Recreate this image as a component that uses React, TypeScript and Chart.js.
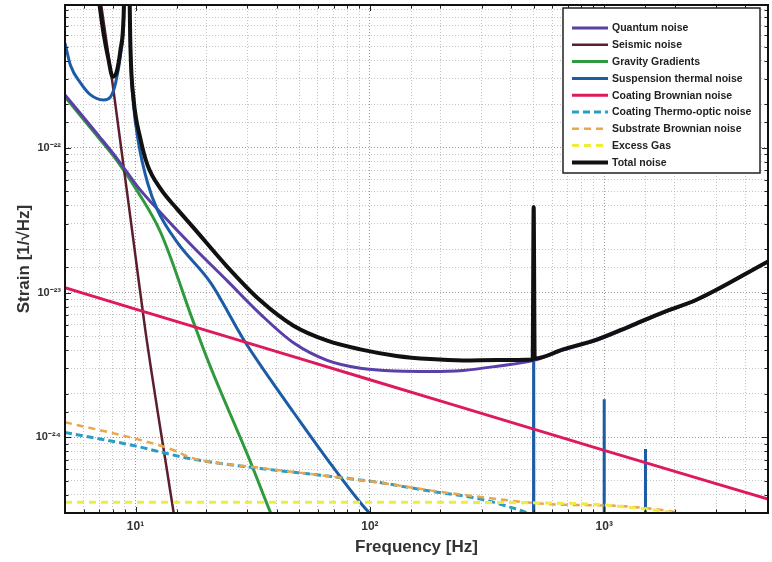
import React, { useEffect, useRef } from 'react';
import { Chart, registerables } from 'chart.js';
Chart.register(...registerables);

// ---------- data (frequency in Hz, strain in 1/sqrt(Hz)) ----------
const seriesLabels = [
  'Quantum noise',
  'Seismic noise',
  'Gravity Gradients',
  'Suspension thermal noise',
  'Coating Brownian noise',
  'Coating Thermo-optic noise',
  'Substrate Brownian noise',
  'Excess Gas',
  'Total noise',
];

const quantumF = [5, 7, 8.4, 10.2, 12.8, 17.7, 24.7, 34.1, 47.2, 65.8, 91, 130, 181, 250, 350, 500, 667, 935, 1285, 1783, 2488, 5000];
const quantumV = [2.32e-22, 1.2e-22, 8.3e-23, 5.4e-23, 3.56e-23, 2.05e-23, 1.2e-23, 7.1e-24, 4.5e-24, 3.4e-24, 3.0e-24, 2.87e-24, 2.85e-24, 2.9e-24, 3.1e-24, 3.4e-24, 4.0e-24, 4.7e-24, 5.8e-24, 7.25e-24, 8.9e-24, 1.63e-23];

const seismicF = [7.0, 8.0, 10, 11, 14, 15];
const seismicV = [1.2e-21, 2.7e-22, 1.77e-23, 5.55e-24, 4.45e-25, 2.2e-25];

const gravityF = [5, 7, 8.4, 10.2, 12.8, 17.7, 20.5, 31, 37.6, 42];
const gravityV = [2.25e-22, 1.16e-22, 8.0e-23, 5.0e-23, 2.6e-23, 6.2e-24, 3.3e-24, 6.7e-25, 3.04e-25, 2.0e-25];

const suspensionF = [5, 5.28, 5.83, 6.43, 7.3, 7.82, 8.22, 8.63, 8.89, 9.2, 9.52, 9.8, 10.3, 11.25, 12.4, 15.1, 20.9, 28.9, 37.6, 47.2, 65.8, 93.8, 120, 499, 500, 501, 999, 1000, 1001, 1499, 1500, 1501, 5000];
const suspensionV = [5.3e-22, 3.7e-22, 2.8e-22, 2.32e-22, 2.14e-22, 2.25e-22, 2.8e-22, 4.4e-22, 7.5e-22, 1e-20, 4.5e-22, 2.0e-22, 1.08e-22, 5.74e-23, 3.73e-23, 2.21e-23, 1.17e-23, 4.74e-24, 2.51e-24, 1.49e-24, 7.05e-25, 3.34e-25, 2.2e-25, 1e-26, 3.9e-23, 1e-26, 1e-26, 1.83e-24, 1e-26, 1e-26, 8.3e-25, 1e-26, 1e-26];

const coatingBrownianF = [5, 10, 100, 1000, 5000];
const coatingBrownianV = [1.08e-23, 7.69e-24, 2.5e-24, 8.13e-25, 3.74e-25];

const thermoOpticF = [5, 9.25, 17.7, 34.1, 65.8, 107, 181, 297, 425, 560];
const thermoOpticV = [1.08e-24, 8.95e-25, 7.05e-25, 6.1e-25, 5.4e-25, 4.9e-25, 4.25e-25, 3.74e-25, 3.18e-25, 2.7e-25];

const substrateF = [5, 10.2, 14.1, 17.7, 34.1, 65.8, 107, 181, 268, 590, 1170, 2110, 3000];
const substrateV = [1.27e-24, 9.7e-25, 8.3e-25, 7.15e-25, 6.15e-25, 5.4e-25, 4.9e-25, 4.3e-25, 3.95e-25, 3.45e-25, 3.35e-25, 3.0e-25, 2.6e-25];

const gasF = [5, 100, 700, 1500, 3000];
const gasV = [3.56e-25, 3.56e-25, 3.5e-25, 3.2e-25, 2.7e-25];

const totalF = [6.9, 7.3, 7.67, 7.98, 8.22, 8.63, 8.89, 9.2, 9.52, 9.8, 10.5, 11.25, 12.8, 15, 17.7, 24.7, 34.1, 47.2, 65.8, 91, 130, 181, 250, 350, 495, 500, 505, 667, 935, 1285, 1783, 2488, 5000];
const totalV = [1.2e-21, 6.2e-22, 4.05e-22, 3.1e-22, 3.2e-22, 4.8e-22, 8.0e-22, 1e-20, 4.7e-22, 2.2e-22, 1.15e-22, 7.6e-23, 5.2e-23, 3.8e-23, 2.8e-23, 1.5e-23, 8.8e-24, 5.9e-24, 4.65e-24, 4.05e-24, 3.65e-24, 3.47e-24, 3.4e-24, 3.42e-24, 3.45e-24, 3.9e-23, 3.5e-24, 4.05e-24, 4.75e-24, 5.85e-24, 7.3e-24, 8.95e-24, 1.64e-23];

const xMin = 5, xMax = 5000;
const yMin = 3e-25, yMax = 9.7e-22;

// ---------- styles ----------
const seriesStyles = [
  { color: '#5b3fa8', width: 3, dash: [] as number[], layer: 7 },
  { color: '#5a1e2c', width: 2.5, dash: [] as number[], layer: 8 },
  { color: '#2f9a3c', width: 3, dash: [] as number[], layer: 9 },
  { color: '#1c5ca6', width: 3, dash: [] as number[], layer: 6 },
  { color: '#dc1a5c', width: 3, dash: [] as number[], layer: 5 },
  { color: '#2a9dc4', width: 3, dash: [7, 4], layer: 4 },
  { color: '#e9a64c', width: 2.5, dash: [7, 5], layer: 3 },
  { color: '#eeee3a', width: 3, dash: [7, 5], layer: 2 },
  { color: '#111111', width: 4, dash: [] as number[], layer: 1 },
];

const seriesXY = [
  [quantumF, quantumV],
  [seismicF, seismicV],
  [gravityF, gravityV],
  [suspensionF, suspensionV],
  [coatingBrownianF, coatingBrownianV],
  [thermoOpticF, thermoOpticV],
  [substrateF, substrateV],
  [gasF, gasV],
  [totalF, totalV],
];

const sup: Record<string, string> = { '-': '\u207B', '0': '\u2070', '1': '\u00B9', '2': '\u00B2', '3': '\u00B3', '4': '\u2074', '5': '\u2075', '6': '\u2076', '7': '\u2077', '8': '\u2078', '9': '\u2079' };
const isPow10 = (v: number) => {
  const l = Math.log10(v);
  return Math.abs(l - Math.round(l)) < 1e-6;
};
const powLabel = (v: number) => {
  if (!isPow10(v)) return '';
  const e = String(Math.round(Math.log10(v)));
  return '10' + e.split('').map((c) => sup[c] || c).join('');
};

const FONT = "'Liberation Sans', Arial, Helvetica, sans-serif";

const overlayPlugin = {
  id: 'matlabOverlay',
  afterDraw(chart: any) {
    const { ctx, chartArea: a, scales } = chart;
    ctx.save();
    // inward tick marks
    ctx.strokeStyle = '#222';
    ctx.lineWidth = 1;
    ctx.beginPath();
    for (const t of scales.x.ticks) {
      const px = Math.round(scales.x.getPixelForValue(t.value)) + 0.5;
      const L = isPow10(t.value) ? 6 : 3.5;
      ctx.moveTo(px, a.bottom); ctx.lineTo(px, a.bottom - L);
      ctx.moveTo(px, a.top); ctx.lineTo(px, a.top + L);
    }
    for (const t of scales.y.ticks) {
      const py = Math.round(scales.y.getPixelForValue(t.value)) + 0.5;
      const L = isPow10(t.value) ? 6 : 3.5;
      ctx.moveTo(a.left, py); ctx.lineTo(a.left + L, py);
      ctx.moveTo(a.right, py); ctx.lineTo(a.right - L, py);
    }
    ctx.stroke();
    // frame
    ctx.strokeStyle = '#111';
    ctx.lineWidth = 2;
    ctx.strokeRect(a.left, a.top, a.right - a.left, a.bottom - a.top);

    // legend
    const ds = chart.data.datasets;
    const bx0 = a.right - 205, bx1 = a.right - 8;
    const by0 = a.top + 3, by1 = a.top + 168;
    ctx.fillStyle = '#ffffff';
    ctx.fillRect(bx0, by0, bx1 - bx0, by1 - by0);
    ctx.strokeStyle = '#222';
    ctx.lineWidth = 1.5;
    ctx.strokeRect(bx0, by0, bx1 - bx0, by1 - by0);
    ctx.font = `bold 10.5px ${FONT}`;
    ctx.textBaseline = 'middle';
    ctx.textAlign = 'left';
    ds.forEach((d: any, i: number) => {
      const y = by0 + 20 + i * 16.8;
      ctx.beginPath();
      ctx.setLineDash(d.borderDash || []);
      ctx.strokeStyle = d.borderColor;
      ctx.lineWidth = d.borderWidth;
      ctx.moveTo(bx0 + 9, y);
      ctx.lineTo(bx0 + 45, y);
      ctx.stroke();
      ctx.setLineDash([]);
      ctx.fillStyle = '#222';
      ctx.fillText(d.label, bx0 + 49, y + 0.5);
    });
    ctx.restore();
  },
};

export default function App() {
  const ref = useRef<HTMLCanvasElement | null>(null);
  useEffect(() => {
    document.body.style.margin = '0';
    document.body.style.background = '#ffffff';
    const canvas = ref.current!;
    const datasets = seriesLabels.map((label, i) => {
      const [fs, vs] = seriesXY[i];
      const st = seriesStyles[i];
      return {
        label,
        data: fs.map((f, k) => ({ x: f, y: vs[k] })),
        borderColor: st.color,
        backgroundColor: st.color,
        borderWidth: st.width,
        borderDash: st.dash,
        pointRadius: 0,
        fill: false,
        cubicInterpolationMode: 'monotone' as const,
        order: st.layer,
        clip: 0,
      };
    });
    const gridColor = (c: any) => (c.tick && isPow10(c.tick.value) ? '#9a9a9a' : '#c4c4c4');
    const chart = new Chart(canvas, {
      type: 'line',
      data: { datasets },
      plugins: [overlayPlugin],
      options: {
        animation: false,
        responsive: false,
        maintainAspectRatio: false,
        devicePixelRatio: 1,
        layout: { padding: { top: 5, right: 4, left: 0, bottom: 0 } },
        plugins: { legend: { display: false }, tooltip: { enabled: false } },
        scales: {
          x: {
            type: 'logarithmic',
            min: xMin,
            max: xMax,
            afterFit: (s: any) => { s.height = 49; s.paddingLeft = 0; s.paddingRight = 0; },
            grid: { color: gridColor, lineWidth: 1, drawTicks: false },
            border: { display: false, dash: [1, 2] },
            ticks: {
              autoSkip: false,
              maxRotation: 0,
              padding: 6,
              color: '#333',
              font: { family: FONT, size: 12, weight: 'bold' },
              callback: (v: any) => powLabel(Number(v)),
            },
            title: {
              display: true,
              text: 'Frequency [Hz]',
              color: '#333',
              font: { family: FONT, size: 17, weight: 'bold' },
              padding: { top: 0, bottom: 4 },
            },
          },
          y: {
            type: 'logarithmic',
            min: yMin,
            max: yMax,
            afterFit: (s: any) => { s.width = 65; s.paddingTop = 0; s.paddingBottom = 0; },
            grid: { color: gridColor, lineWidth: 1, drawTicks: false },
            border: { display: false, dash: [1, 2] },
            ticks: {
              autoSkip: false,
              padding: 4,
              color: '#333',
              font: { family: FONT, size: 11, weight: 'bold' },
              callback: (v: any) => powLabel(Number(v)),
            },
            title: {
              display: true,
              text: 'Strain [1/\u221AHz]',
              color: '#333',
              font: { family: FONT, size: 17, weight: 'bold' },
              padding: { top: 14, bottom: 0 },
            },
          },
        },
      },
    } as any);
    return () => chart.destroy();
  }, []);
  return (
    <div style={{ width: 772, height: 562, background: '#fff' }}>
      <canvas ref={ref} width={772} height={562} style={{ display: 'block', width: 772, height: 562 }} />
    </div>
  );
}
